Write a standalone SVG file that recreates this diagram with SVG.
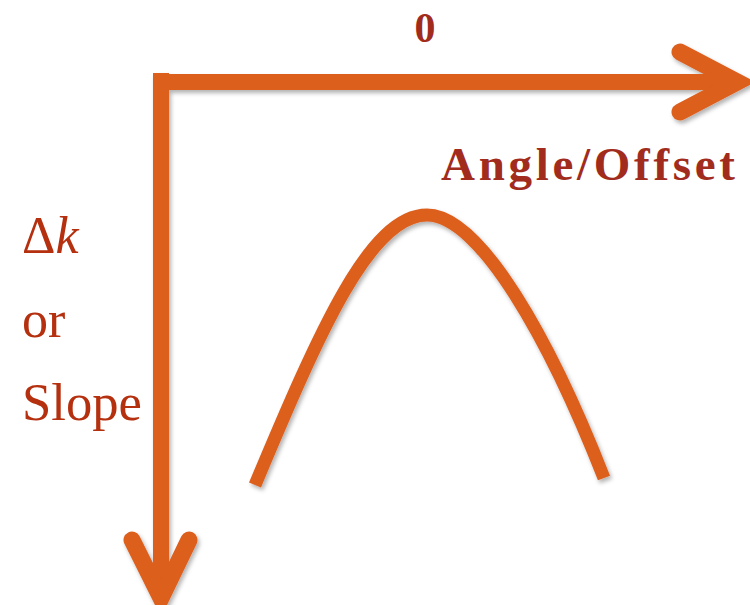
<svg xmlns="http://www.w3.org/2000/svg" width="750" height="605" viewBox="0 0 750 605">
<style>
.ax{fill:none;stroke:#DC5E1F;stroke-width:17;stroke-linecap:round;stroke-linejoin:miter}
.ln{fill:none;stroke:#DC5E1F;stroke-width:16;stroke-linecap:butt}
.cv{fill:none;stroke:#DC5E1F;stroke-width:13;stroke-linecap:butt;stroke-linejoin:round}
.t1{font-family:'Liberation Serif','DejaVu Serif','Times New Roman',serif;font-weight:bold;fill:#A12C1E}
.t2{font-family:'Liberation Serif','DejaVu Serif','Times New Roman',serif;fill:#B5300F}
</style>
<defs>
<filter id="sh" x="-10%" y="-10%" width="120%" height="120%">
<feDropShadow dx="2" dy="3" stdDeviation="2" flood-color="#000" flood-opacity="0.3"/>
</filter>
</defs>
<rect width="750" height="605" fill="#fff"/>
<g id="connectors" filter="url(#sh)">
<path class="ln" d="M161,73 L161,592"/>
<path class="ln" d="M153,82 L730,82"/>
<path class="ax" d="M680,52 L737,82 L680,112"/>
<path class="ax" d="M132,540 L161,598 L189,540"/>
</g>
<g id="curve" filter="url(#sh)">
<path class="cv" d="M255,485 C320,330 370,215 427,215 C480,215 550,340 604,478"/>
</g>
<g id="label-zero"><text class="t1" x="425" y="42" font-size="42" text-anchor="middle">0</text></g>
<g id="label-angle"><text class="t1" x="441" y="180" font-size="47" textLength="294" lengthAdjust="spacing">Angle/Offset</text></g>
<g id="label-dk"><text class="t2" x="22" y="253" font-size="52">Δ<tspan font-style="italic">k</tspan></text></g>
<g id="label-or"><text class="t2" x="22" y="337" font-size="52">or</text></g>
<g id="label-slope"><text class="t2" x="22" y="420" font-size="52" textLength="120" lengthAdjust="spacingAndGlyphs">Slope</text></g>
</svg>
